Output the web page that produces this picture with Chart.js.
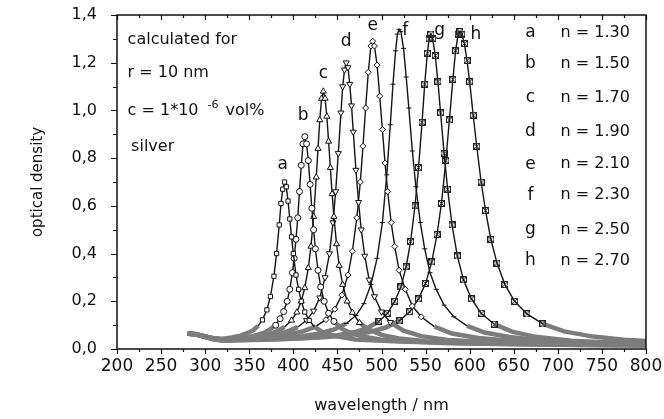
<!DOCTYPE html>
<html>
<head>
<meta charset="utf-8">
<script src="https://cdn.jsdelivr.net/npm/chart.js@4.4.0/dist/chart.umd.min.js"></script>
<style>
  html, body { margin: 0; padding: 0; background: #fff; }
  #wrap { width: 664px; height: 419px; }
</style>
</head>
<body>
<div id="wrap"><canvas id="chart" width="664" height="419"></canvas></div>
<script>
// wavelength (nm) and optical density, one pair per curve
const aNm = [280,290,300,310,320,330,340,350,355,360,365,370,374,378,381,384,386,388,390,392,394,396,398,400,403,406,409,413,418,424,432,445,470,520,600,700,800];
const aOd = [0.066,0.062,0.053,0.045,0.043,0.048,0.056,0.070,0.080,0.097,0.122,0.164,0.220,0.305,0.400,0.520,0.610,0.670,0.700,0.680,0.620,0.545,0.470,0.400,0.310,0.250,0.200,0.155,0.120,0.093,0.073,0.056,0.040,0.031,0.023,0.018,0.015];

const bNm = [280,290,300,310,320,330,340,350,360,368,375,380,385,389,393,396,399,401,403,405,407,409,411,413,415,417,419,421,423,425,428,431,435,440,446,455,465,480,500,530,570,620,700,800];
const bOd = [0.065,0.061,0.052,0.043,0.040,0.042,0.046,0.051,0.060,0.070,0.086,0.100,0.127,0.157,0.200,0.250,0.320,0.380,0.460,0.550,0.660,0.770,0.860,0.890,0.860,0.790,0.690,0.590,0.500,0.420,0.330,0.260,0.200,0.150,0.116,0.085,0.067,0.051,0.039,0.032,0.025,0.022,0.018,0.015];

const cNm = [280,290,300,310,320,330,340,355,370,380,390,398,404,409,413,417,420,423,426,428,430,432,434,436,438,440,442,444,446,449,452,456,461,467,475,485,500,520,550,600,680,800];
const cOd = [0.065,0.061,0.052,0.043,0.040,0.042,0.044,0.050,0.060,0.072,0.092,0.120,0.154,0.200,0.256,0.340,0.430,0.555,0.720,0.840,0.960,1.050,1.080,1.050,0.975,0.870,0.760,0.650,0.555,0.440,0.350,0.270,0.200,0.153,0.110,0.083,0.059,0.044,0.033,0.027,0.022,0.017];

const dNm = [280,290,300,310,320,330,345,360,375,390,405,415,423,430,436,441,445,448,451,454,456,458,460,462,464,466,468,471,474,477,481,486,492,500,510,525,545,575,620,700,800];
const dOd = [0.066,0.062,0.053,0.044,0.040,0.042,0.045,0.050,0.057,0.069,0.092,0.120,0.160,0.215,0.300,0.400,0.530,0.660,0.820,0.990,1.100,1.170,1.200,1.180,1.110,1.020,0.910,0.750,0.615,0.500,0.390,0.290,0.220,0.156,0.112,0.077,0.054,0.038,0.029,0.022,0.017];

const eNm = [280,290,300,310,320,335,350,370,390,410,425,437,447,455,462,467,472,476,479,482,485,488,490,492,495,498,501,504,507,511,515,520,527,535,545,560,580,610,650,720,800];
const eOd = [0.066,0.062,0.053,0.044,0.040,0.042,0.044,0.049,0.058,0.073,0.094,0.123,0.167,0.226,0.310,0.410,0.550,0.700,0.850,1.010,1.160,1.270,1.290,1.270,1.190,1.060,0.920,0.780,0.660,0.530,0.430,0.330,0.250,0.180,0.135,0.094,0.065,0.046,0.034,0.024,0.019];

const fNm = [280,290,300,310,320,340,360,385,410,430,447,460,471,480,488,495,501,506,510,513,516,518,520,522,525,528,531,535,539,544,549,555,562,571,582,597,617,645,685,740,800];
const fOd = [0.065,0.060,0.051,0.042,0.037,0.039,0.041,0.046,0.054,0.065,0.083,0.107,0.140,0.190,0.270,0.380,0.530,0.730,0.940,1.110,1.250,1.320,1.340,1.330,1.260,1.140,1.010,0.830,0.680,0.530,0.420,0.320,0.250,0.184,0.135,0.097,0.069,0.050,0.035,0.026,0.021];

const gNm = [280,290,300,310,320,340,365,395,425,450,470,485,497,507,515,522,528,533,538,542,546,549,552,554,556,558,561,564,567,571,575,580,586,593,602,613,628,648,675,715,760,800];
const gOd = [0.064,0.060,0.050,0.040,0.036,0.037,0.039,0.043,0.049,0.058,0.071,0.090,0.116,0.150,0.200,0.260,0.345,0.450,0.600,0.760,0.950,1.110,1.240,1.300,1.320,1.300,1.230,1.120,0.990,0.820,0.670,0.520,0.390,0.290,0.210,0.150,0.104,0.073,0.051,0.035,0.027,0.023];

const hNm = [280,290,300,310,320,340,370,400,430,460,485,505,520,532,542,550,557,563,568,573,577,581,584,587,589,591,594,597,600,604,608,613,618,624,631,640,651,665,683,707,740,775,800];
const hOd = [0.065,0.060,0.050,0.041,0.036,0.038,0.040,0.043,0.048,0.057,0.070,0.090,0.118,0.156,0.210,0.275,0.365,0.480,0.610,0.790,0.960,1.130,1.250,1.320,1.330,1.320,1.280,1.210,1.120,0.980,0.850,0.700,0.580,0.460,0.360,0.270,0.200,0.147,0.105,0.074,0.052,0.039,0.033];

const curveLetters = ['a', 'b', 'c', 'd', 'e', 'f', 'g', 'h'];
const refIndex = ['1.30', '1.50', '1.70', '1.90', '2.10', '2.30', '2.50', '2.70'];
const infoLines = ['calculated for', 'r = 10 nm', 'c = 1*10', 'silver'];

const FONT = '"DejaVu Sans", Arial, sans-serif';
const INK = '#111';

// small square with a cross, used for the g and h markers
function boxCross() {
    const c = document.createElement('canvas');
    c.width = 7; c.height = 7;
    const g = c.getContext('2d');
    g.strokeStyle = '#222';
    g.lineWidth = 1;
    g.strokeRect(0.5, 0.5, 6, 6);
    g.beginPath();
    g.moveTo(1, 1); g.lineTo(6, 6);
    g.moveTo(6, 1); g.lineTo(1, 6);
    g.stroke();
    return c;
}
const boxMark = boxCross();

function pairs(xs, ys) {
    return xs.map((x, i) => ({ x: x, y: ys[i] }));
}

const low = 0.12;
function isLow(ctx) {
    return ctx.p0.parsed.y < low && ctx.p1.parsed.y < low;
}
function curve(xs, ys, style, radius, rotation) {
    return {
        data: pairs(xs, ys),
        borderColor: '#151515',
        borderWidth: 1.4,
        pointStyle: style,
        pointRotation: rotation || 0,
        pointRadius: ctx => (ctx.raw && ctx.raw.y >= 0.1 ? radius : 0),
        pointBackgroundColor: '#fff',
        pointBorderColor: '#111',
        pointBorderWidth: 1,
        tension: 0,
        segment: {
            borderColor: ctx => (isLow(ctx) ? '#7c7c7c' : '#151515'),
            borderWidth: ctx => (isLow(ctx) ? 4.5 : 1.4)
        }
    };
}

// frame, minor/major ticks and all the text inside the plot
const decor = {
    id: 'decor',
    afterDraw(chart) {
        const { ctx, chartArea: ca, scales: { x, y } } = chart;
        ctx.save();
        ctx.strokeStyle = INK;
        ctx.lineWidth = 1.5;
        ctx.strokeRect(ca.left, ca.top, ca.right - ca.left, ca.bottom - ca.top);

        ctx.lineWidth = 1.2;
        ctx.beginPath();
        for (let v = 200; v <= 800; v += 25) {
            const px = Math.round(x.getPixelForValue(v)) + 0.5;
            const len = v % 50 === 0 ? 5 : 3;
            ctx.moveTo(px, ca.bottom); ctx.lineTo(px, ca.bottom + len);
            ctx.moveTo(px, ca.top); ctx.lineTo(px, ca.top + len);
        }
        for (let k = 0; k <= 14; k++) {
            const py = Math.round(y.getPixelForValue(k / 10)) + 0.5;
            const len = k % 2 === 0 ? 6 : 4;
            ctx.moveTo(ca.left - len, py); ctx.lineTo(ca.left, py);
        }
        ctx.stroke();

        ctx.fillStyle = INK;
        ctx.textBaseline = 'middle';
        ctx.font = '16px ' + FONT;
        ctx.textAlign = 'left';

        // info block, top left
        const infoAt = [[212, 1.295], [212, 1.157], [212, 1.0], [216, 0.847]];
        infoLines.forEach((t, i) => {
            ctx.fillText(t, x.getPixelForValue(infoAt[i][0]), y.getPixelForValue(infoAt[i][1]));
        });
        let cx = x.getPixelForValue(212) + ctx.measureText(infoLines[2]).width + 9;
        const cy = y.getPixelForValue(1.0);
        ctx.font = '11px ' + FONT;
        ctx.fillText('-6', cx, cy - 5);
        cx += ctx.measureText('-6').width + 7;
        ctx.font = '16px ' + FONT;
        ctx.fillText('vol%', cx, cy);

        // letters over the peaks
        const peakAt = [[388, 0.775], [411, 0.98], [434, 1.155], [460, 1.29], [490, 1.355], [527, 1.335], [566, 1.335], [607, 1.32]];
        ctx.font = '17px ' + FONT;
        ctx.textAlign = 'center';
        curveLetters.forEach((t, i) => {
            ctx.fillText(t, x.getPixelForValue(peakAt[i][0]), y.getPixelForValue(peakAt[i][1]));
        });

        // key, right side
        const rows = [1.325, 1.195, 1.052, 0.91, 0.775, 0.645, 0.499, 0.369];
        curveLetters.forEach((t, i) => {
            const py = y.getPixelForValue(rows[i]);
            ctx.font = '17px ' + FONT;
            ctx.textAlign = 'center';
            ctx.fillText(t, x.getPixelForValue(669), py);
            ctx.font = '16px ' + FONT;
            ctx.textAlign = 'left';
            ctx.fillText('n = ' + refIndex[i], x.getPixelForValue(703), py);
        });
        ctx.restore();
    }
};

new Chart(document.getElementById('chart'), {
    type: 'line',
    data: {
        datasets: [
            curve(aNm, aOd, 'rect', 3),
            curve(bNm, bOd, 'circle', 3),
            curve(cNm, cOd, 'triangle', 3.5),
            curve(dNm, dOd, 'triangle', 3.5, 180),
            curve(eNm, eOd, 'rectRot', 3),
            curve(fNm, fOd, 'line', 2.5),
            curve(gNm, gOd, boxMark, 3),
            curve(hNm, hOd, boxMark, 3)
        ]
    },
    options: {
        responsive: false,
        animation: false,
        layout: { padding: { left: 0, top: 15, right: 18, bottom: 0 } },
        plugins: { legend: { display: false }, tooltip: { enabled: false } },
        scales: {
            x: {
                type: 'linear',
                min: 200,
                max: 800,
                // fixed box: 70px tall, no extra room asked for the end labels
                afterFit: s => { s.height = 70; s.paddingLeft = 0; s.paddingRight = 0; },
                afterBuildTicks: s => { s.ticks = []; for (let v = 200; v <= 800; v += 50) s.ticks.push({ value: v }); },
                grid: { display: false, drawTicks: false },
                border: { display: false },
                ticks: { color: INK, font: { family: FONT, size: 17 }, padding: 7, maxRotation: 0, autoSkip: false },
                title: { display: true, text: 'wavelength / nm', color: INK, font: { family: FONT, size: 16 }, padding: { bottom: 4 } }
            },
            y: {
                min: 0,
                max: 1.4,
                afterFit: s => { s.width = 117; s.paddingTop = 0; s.paddingBottom = 0; },
                afterBuildTicks: s => { s.ticks = []; for (let k = 0; k <= 7; k++) s.ticks.push({ value: k / 5 }); },
                grid: { display: false, drawTicks: false },
                border: { display: false },
                ticks: {
                    color: INK,
                    font: { family: FONT, size: 16 },
                    padding: 20,
                    callback: v => v.toFixed(1).replace('.', ',')
                },
                title: { display: true, text: 'optical density', color: INK, font: { family: FONT, size: 15 }, padding: { top: 29 } }
            }
        }
    },
    plugins: [decor]
});
</script>
</body>
</html>
